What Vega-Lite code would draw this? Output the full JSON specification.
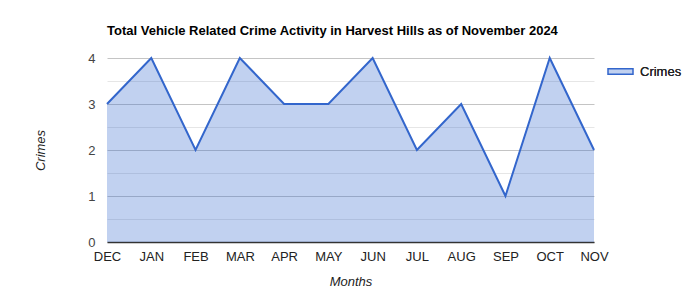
{
  "$schema": "https://vega.github.io/schema/vega-lite/v6.json",
  "width": 487,
  "height": 184,
  "autosize": {"type": "none"},
  "padding": {"left": 107, "top": 58, "right": 106, "bottom": 58},
  "background": "white",
  "title": {
    "text": "Total Vehicle Related Crime Activity in Harvest Hills as of November 2024",
    "anchor": "start",
    "frame": "group",
    "font": "Liberation Sans",
    "fontSize": 13,
    "fontWeight": "bold",
    "color": "#000000",
    "offset": 14
  },
  "data": {
    "values": [
      {"month": "DEC", "crimes": 3, "series": "Crimes"},
      {"month": "JAN", "crimes": 4, "series": "Crimes"},
      {"month": "FEB", "crimes": 2, "series": "Crimes"},
      {"month": "MAR", "crimes": 4, "series": "Crimes"},
      {"month": "APR", "crimes": 3, "series": "Crimes"},
      {"month": "MAY", "crimes": 3, "series": "Crimes"},
      {"month": "JUN", "crimes": 4, "series": "Crimes"},
      {"month": "JUL", "crimes": 2, "series": "Crimes"},
      {"month": "AUG", "crimes": 3, "series": "Crimes"},
      {"month": "SEP", "crimes": 1, "series": "Crimes"},
      {"month": "OCT", "crimes": 4, "series": "Crimes"},
      {"month": "NOV", "crimes": 2, "series": "Crimes"}
    ]
  },
  "config": {
    "view": {"stroke": null},
    "font": "Liberation Sans",
    "axis": {"labelFont": "Liberation Sans", "titleFont": "Liberation Sans"},
    "legend": {
      "orient": "none", "legendX": 500, "legendY": 0,
      "symbolType": "M-1,-0.22H1V0.22H-1Z", "symbolSize": 625, "symbolStrokeWidth": 1.5,
      "labelFontSize": 13, "labelColor": "#222222", "labelOffset": 6, "labelFont": "Liberation Sans"
    }
  },
  "encoding": {
    "x": {
      "field": "month", "type": "ordinal", "sort": null,
      "scale": {"type": "point", "padding": 0},
      "axis": {
        "title": "Months", "titleFontStyle": "italic", "titleFontWeight": "normal", "titleFontSize": 13, "titleColor": "#222222", "titlePadding": 12,
        "labelAngle": 0, "labelFontSize": 13, "labelColor": "#222222", "labelPadding": 8,
        "ticks": false, "domain": true, "domainColor": "#333333", "domainWidth": 1.5, "grid": false
      }
    },
    "y": {
      "field": "crimes", "type": "quantitative",
      "scale": {"domain": [0, 4], "nice": false},
      "axis": {
        "title": "Crimes", "titleFontStyle": "italic", "titleFontWeight": "normal", "titleFontSize": 13, "titleColor": "#222222", "titlePadding": 40,
        "values": [0, 0.5, 1, 1.5, 2, 2.5, 3, 3.5, 4],
        "labelExpr": "datum.value % 1 === 0 ? format(datum.value, 'd') : ''",
        "labelFontSize": 13, "labelColor": "#444444", "labelPadding": 12,
        "ticks": false, "domain": false,
        "gridColor": {"condition": {"test": "datum.value % 1 !== 0", "value": "#e6e6e6"}, "value": "#c4c4c4"}
      }
    }
  },
  "layer": [
    {
      "mark": {"type": "area"},
      "encoding": {
        "fill": {
          "field": "series", "type": "nominal", "title": null,
          "scale": {"range": ["rgba(51,102,204,0.3)"]}
        }
      }
    },
    {
      "mark": {"type": "line", "strokeWidth": 2},
      "encoding": {
        "stroke": {"field": "series", "type": "nominal", "title": null, "scale": {"range": ["#3366cc"]}}
      }
    }
  ]
}
